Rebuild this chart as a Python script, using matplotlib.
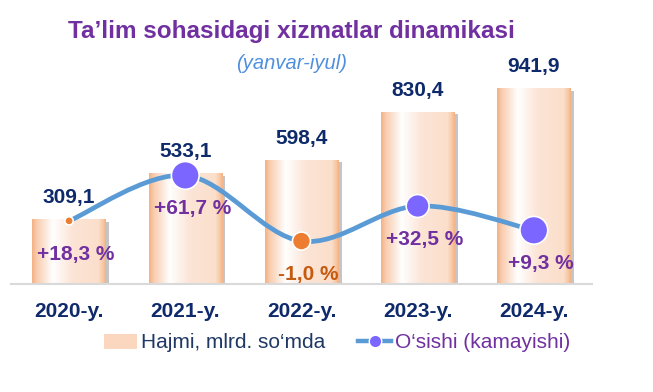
import numpy as np
import matplotlib
matplotlib.use('Agg')
import matplotlib.pyplot as plt
from matplotlib.path import Path
from matplotlib.patches import PathPatch, Patch
from matplotlib.lines import Line2D
from matplotlib.colors import to_rgb
import matplotlib.patheffects as pe

plt.rcParams['font.family'] = ['Liberation Sans', 'DejaVu Sans']

# ma'lumotlar
yillar = ['2020-y.', '2021-y.', '2022-y.', '2023-y.', '2024-y.']
hajmi = [309.1, 533.1, 598.4, 830.4, 941.9]      # mlrd. so'm
osish = [18.3, 61.7, -1.0, 32.5, 9.3]            # %

# nuqtalar uslubi
nuqta_rang = ['#ED7D31', '#7B66FF', '#ED7D31', '#7B66FF', '#7B66FF']
nuqta_olcham = [6, 20, 13, 16.5, 20]

navy = '#0E2A6B'
binafsha = '#7030A0'

fig = plt.figure(figsize=(6.53, 3.92), dpi=100)
ax = fig.add_axes([0.0168, 0.2755, 0.8897, 0.6224])

x = np.arange(len(yillar))
bars = ax.bar(x, hajmi, width=0.63, color='#FBE5D6', zorder=1,
              path_effects=[pe.SimplePatchShadow(offset=(2.5, -1.5), shadow_rgbFace='#808080', alpha=0.45),
                            pe.Normal()])

# ustunlar ichidagi gradient
stops = [0.0, 0.06, 0.28, 0.55, 0.9, 0.97, 1.0]
cols = ['#F4B183', '#F8CBAD', '#FFFFFF', '#FCE4D6', '#FBDFCB', '#F7C4A0', '#F4B183']
t = np.linspace(0, 1, 200)
rgb = np.array([to_rgb(c) for c in cols])
grad = np.stack([np.interp(t, stops, rgb[:, k]) for k in range(3)], axis=-1)[None, :, :]
for r in bars:
    ax.imshow(grad, extent=[r.get_x(), r.get_x() + r.get_width(), 0, r.get_height()],
              aspect='auto', zorder=2, interpolation='bilinear')

for xi, v in zip(x, hajmi):
    ax.annotate(f'{v:.1f}'.replace('.', ','), (xi, v), xytext=(0, 9), textcoords='offset points',
                ha='center', va='bottom', fontsize=15, fontweight='bold', color=navy)

ax.set_xlim(-0.5, 4.5)
ax.set_ylim(0, 1178)
ax.set_xticks(x)
ax.set_xticklabels(yillar, fontsize=15, fontweight='bold', color=navy)
ax.tick_params(axis='x', length=0, pad=13)
ax.set_yticks([])
for s in ['top', 'left', 'right']:
    ax.spines[s].set_visible(False)
ax.spines['bottom'].set_color('#D9D9D9')
ax.spines['bottom'].set_linewidth(1.5)

# o'sish chizig'i (ikkinchi o'q)
ax2 = ax.twinx()
ax2.set_ylim(-42, 191)
ax2.set_yticks([])
for s in ax2.spines.values():
    s.set_visible(False)

P = np.column_stack([x, osish]).astype(float)
Pe = np.vstack([P[0], P, P[-1]])
verts = [P[0]]
codes = [Path.MOVETO]
for i in range(len(P) - 1):
    p0, p1, p2, p3 = Pe[i], Pe[i + 1], Pe[i + 2], Pe[i + 3]
    verts += [p1 + (p2 - p0) / 6, p2 - (p3 - p1) / 6, p2]
    codes += [Path.CURVE4] * 3
ax2.add_patch(PathPatch(Path(verts, codes), facecolor='none', edgecolor='#5B9BD5',
                        lw=3.4, capstyle='round', zorder=3))
ax2.scatter(x, osish, s=np.array(nuqta_olcham) ** 2, c=nuqta_rang, edgecolors='white',
            linewidths=1.2, zorder=4)

for xi, v in zip(x, osish):
    ax2.annotate(f'{v:+.1f} %'.replace('.', ','), (xi, v), xytext=(5, -24), textcoords='offset points',
                 ha='center', va='center', fontsize=15, fontweight='bold',
                 color=binafsha if v >= 0 else '#C55A11', zorder=5)

# sarlavha
fig.text(0.447, 0.9023, 'Ta’lim sohasidagi xizmatlar dinamikasi', ha='center', va='baseline',
         fontsize=17.5, fontweight='bold', color=binafsha)
fig.text(0.447, 0.839, '(yanvar-iyul)', ha='center', va='center', fontsize=14.5,
         style='italic', color='#4F8FDE')

# legenda
h1 = Patch(facecolor='#FAD7BE', edgecolor='none')
h2 = Line2D([], [], color='#5B9BD5', lw=3.2, marker='o', markersize=9,
            markerfacecolor='#7B66FF', markeredgecolor='white')
leg = fig.legend([h1, h2], ['Hajmi, mlrd. so‘mda', 'O‘sishi (kamayishi)'], loc='center',
                 bbox_to_anchor=(0.516, 0.125), ncol=2, frameon=False, fontsize=15,
                 handlelength=1.6, handletextpad=0.15, columnspacing=1.6)
leg.get_texts()[0].set_color('#1F3864')
leg.get_texts()[1].set_color(binafsha)

fig.savefig('out.png', dpi=100)
